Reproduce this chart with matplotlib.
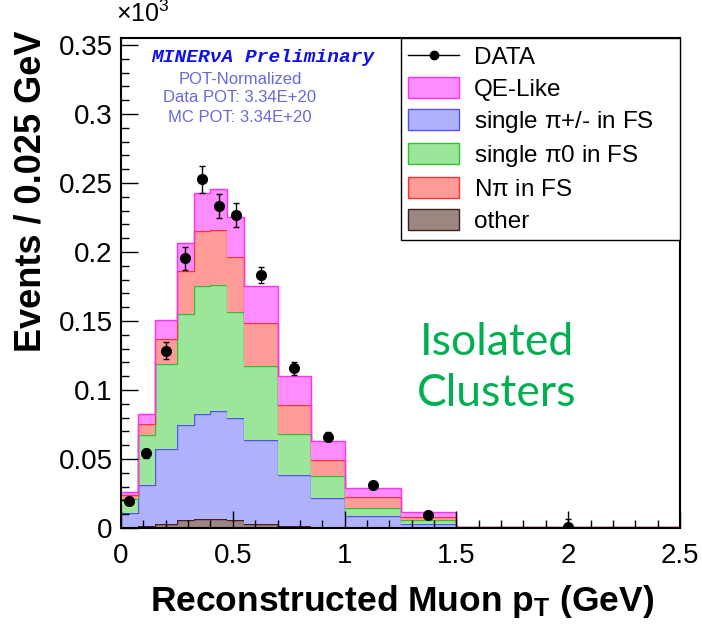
import numpy as np
import matplotlib
matplotlib.use("Agg")
import matplotlib.pyplot as plt
from matplotlib.patches import Patch
from matplotlib.lines import Line2D
from matplotlib.ticker import MultipleLocator, FuncFormatter

# muon pT bin edges (GeV)
edges = np.array([0, 0.075, 0.15, 0.25, 0.325, 0.4, 0.475, 0.55, 0.7, 0.85, 1.0, 1.25, 1.5, 2.5])

# events / 0.025 GeV, in units of 10^3
other = [0.0003, 0.0015, 0.0030, 0.0055, 0.0065, 0.0065, 0.0058, 0.0030, 0.0012, 0.0006, 0.0003, 0.0002, 0.0001]
pi_pm = [0.0104, 0.0297, 0.0542, 0.0691, 0.0761, 0.0785, 0.0742, 0.0608, 0.0370, 0.0214, 0.0087, 0.0027, 0.0001]
pi0 = [0.0101, 0.0360, 0.0616, 0.0802, 0.0928, 0.0911, 0.0763, 0.0536, 0.0297, 0.0157, 0.0058, 0.0029, 0.0002]
npi = [0.0031, 0.0082, 0.0182, 0.0317, 0.0398, 0.0399, 0.0398, 0.0309, 0.0212, 0.0116, 0.0074, 0.0024, 0.0003]
qe_like = [0.0020, 0.0072, 0.0140, 0.0203, 0.0273, 0.0294, 0.0290, 0.0271, 0.0210, 0.0140, 0.0071, 0.0036, 0.0003]

data = [0.0196, 0.0540, 0.1285, 0.1954, 0.2527, 0.2333, 0.2268, 0.1833, 0.1157, 0.0662, 0.0312, 0.0092, 0.0008]
data_err = [0.0025, 0.0030, 0.0060, 0.0085, 0.0099, 0.0090, 0.0087, 0.0057, 0.0046, 0.0030, 0.0015, 0.0010, 0.0060]

# stack order bottom -> top: (label, values, fill, line)
stack = [
    ("other", other, "#9c8682", "#4a1a1a"),
    (r"single $\pi$+/- in FS", pi_pm, "#b0b2ff", "#5050ff"),
    (r"single $\pi$0 in FS", pi0, "#9ce69c", "#30c030"),
    (r"N$\pi$ in FS", npi, "#ff9c98", "#ff3030"),
    ("QE-Like", qe_like, "#ff8cff", "#ff30ff"),
]
legend_order = [4, 1, 2, 3, 0]

plt.rcParams["font.family"] = ["Liberation Sans", "DejaVu Sans"]
plt.rcParams["mathtext.fontset"] = "custom"
plt.rcParams["mathtext.rm"] = "Liberation Sans"
plt.rcParams["mathtext.it"] = "Liberation Sans"

fig = plt.figure(figsize=(7.02, 6.25), dpi=100)
ax = fig.add_axes([121 / 702, 1 - 528 / 625, (680 - 121) / 702, (528 - 38) / 625])

bottom = np.zeros(len(edges) - 1)
for label, vals, fill, line in stack:
    top = bottom + np.array(vals)
    ax.stairs(top, edges, baseline=bottom, fill=True, color=fill, lw=0)
    ax.stairs(top, edges, baseline=None, color=line, lw=1)
    bottom = top

centers = 0.5 * (edges[:-1] + edges[1:])
ax.errorbar(centers, data, yerr=data_err, fmt="o", color="black", ms=7,
            elinewidth=1, capsize=2.5, capthick=1, zorder=5)

ax.set_xlim(0, 2.5)
ax.set_ylim(0, 0.355)
ax.xaxis.set_major_locator(MultipleLocator(0.5))
ax.xaxis.set_minor_locator(MultipleLocator(0.1))
ax.yaxis.set_major_locator(MultipleLocator(0.05))
ax.yaxis.set_minor_locator(MultipleLocator(0.01))
fmt = FuncFormatter(lambda v, p: "%g" % round(v, 3))
ax.xaxis.set_major_formatter(fmt)
ax.yaxis.set_major_formatter(fmt)
ax.tick_params(which="both", direction="in", top=False, right=False, width=1, labelsize=20)
ax.tick_params(which="major", length=12)
ax.tick_params(which="minor", length=6)
ax.tick_params(axis="x", pad=11)
ax.tick_params(axis="y", pad=6)
for s in ax.spines.values():
    s.set_linewidth(1.5)

# axis titles
fig.text(402 / 702, 1 - 611 / 625, r"Reconstructed Muon p$_\mathregular{T}$ (GeV)",
         ha="center", va="baseline", fontsize=25.5, fontweight="bold")
fig.text(31 / 702, 1 - 30 / 625, "Events / 0.025 GeV", rotation=90,
         ha="center", va="top", fontsize=26, fontweight="bold")
fig.text(116 / 702, 1 - 1 / 625, r"$\times$10$^\mathregular{3}$", ha="left", va="top", fontsize=18)

# labels in the plot
fig.text(263 / 702, 1 - 58 / 625, "MINERνA Preliminary", ha="center", va="center",
         family="Liberation Mono", fontweight="bold", style="italic", fontsize=14, color="#1010ee")
for yy, txt in [(79, "POT-Normalized"), (98, "Data POT: 3.34E+20"), (117, "MC POT: 3.34E+20")]:
    fig.text(240 / 702, 1 - yy / 625, txt, ha="center", va="center", fontsize=12, color="#6868dc")

fig.text(497 / 702, 1 - 355 / 625, "Isolated", ha="center", va="baseline",
         family="Lato", fontsize=32, color="#00b050")
fig.text(497 / 702, 1 - 406 / 625, "Clusters", ha="center", va="baseline",
         family="Lato", fontsize=32, color="#00b050")

handles = [Line2D([], [], color="black", marker="o", ms=6, lw=1)]
labels = ["DATA"]
for i in legend_order:
    label, vals, fill, line = stack[i]
    handles.append(Patch(facecolor=fill, edgecolor=line, lw=1))
    labels.append(label)
leg_x0 = (401 - 121) / 559
leg = ax.legend(handles, labels, loc="upper right", bbox_to_anchor=(leg_x0, 0, 1 - leg_x0, 1),
                mode="expand", borderaxespad=0,
                fancybox=False, edgecolor="black", framealpha=1, fontsize=17.5,
                handlelength=2.1, handleheight=0.95, handletextpad=0.6, labelspacing=0.33,
                borderpad=0.3)
leg.get_frame().set_linewidth(1)

fig.savefig("out.png", dpi=100)
